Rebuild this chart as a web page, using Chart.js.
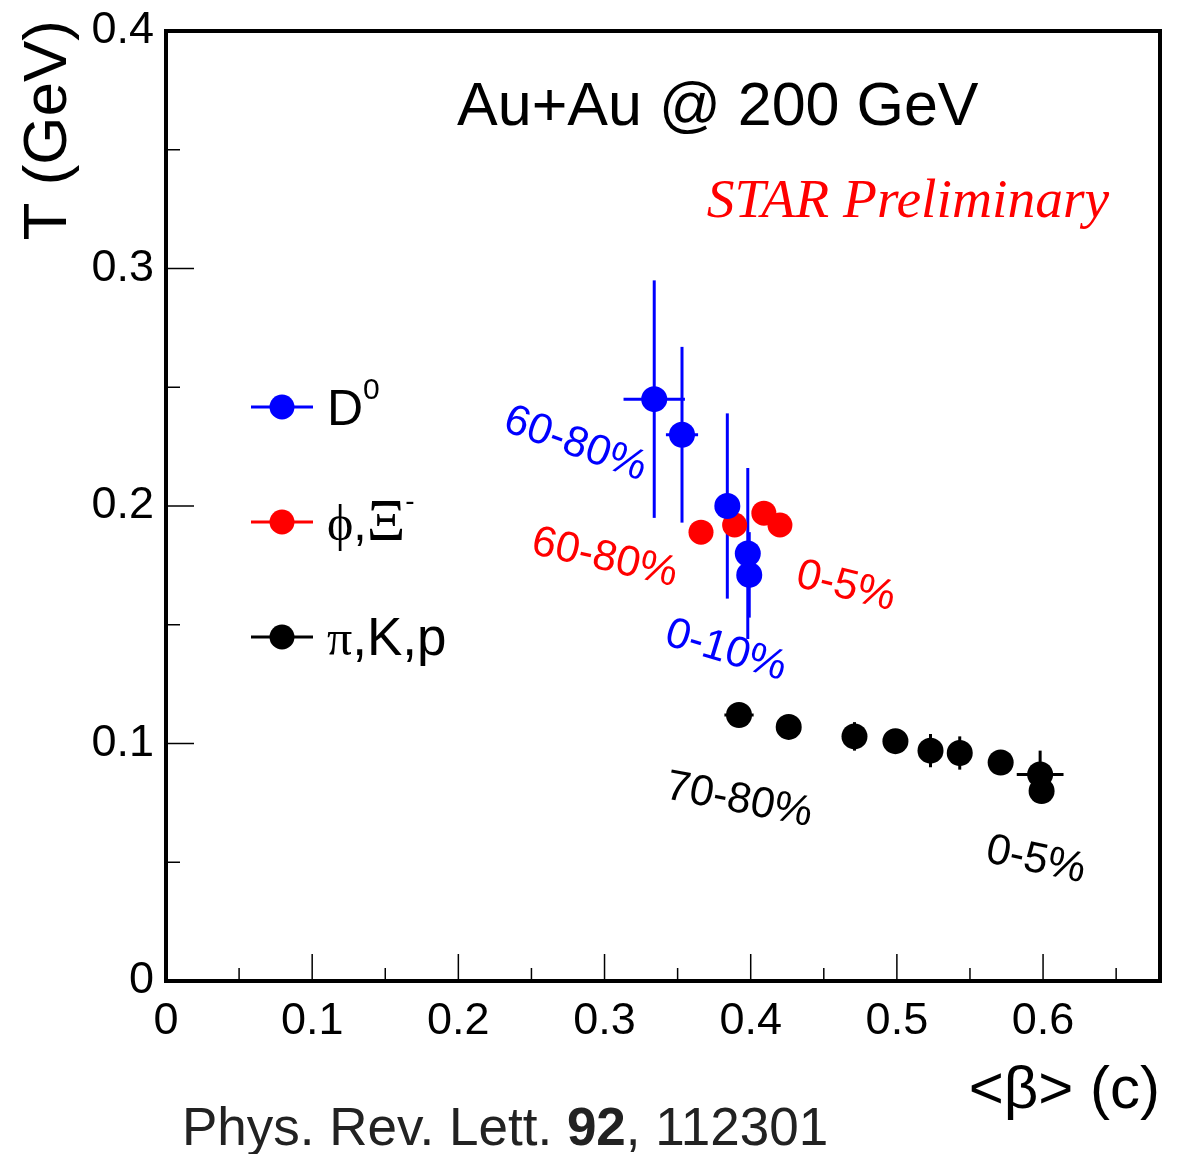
<!DOCTYPE html>
<html>
<head>
<meta charset="utf-8">
<script src="https://cdn.jsdelivr.net/npm/chart.js@4"></script>
<style>
  html, body { margin: 0; padding: 0; background: #fff; }
  #wrap { width: 1181px; height: 1154px; position: relative; }
</style>
</head>
<body>
<div id="wrap"><canvas id="tempChart"></canvas></div>
<script>
// D0 (blue)
const d0Beta = [0.334, 0.353, 0.384, 0.398, 0.399];
const d0T = [0.245, 0.230, 0.200, 0.180, 0.171];
const d0TErr = [0.050, 0.037, 0.039, 0.036, 0.018];
const d0BetaErr = [0.021, 0.011, 0, 0, 0];

// phi, Xi- (red)
const phiXiBeta = [0.366, 0.389, 0.409, 0.420];
const phiXiT = [0.189, 0.192, 0.197, 0.192];

// pi, K, p (black)
const pikpBeta = [0.392, 0.426, 0.471, 0.499, 0.523, 0.543, 0.571, 0.598, 0.599];
const pikpT = [0.112, 0.107, 0.103, 0.101, 0.097, 0.096, 0.092, 0.087, 0.080];
const pikpTErr = [0, 0, 0.006, 0, 0.007, 0.007, 0, 0.010, 0];
const pikpBetaErr = [0.01, 0, 0, 0, 0, 0, 0, 0.016, 0];

// axis ticks
const xTickValues = [0, 0.1, 0.2, 0.3, 0.4, 0.5, 0.6];
const yTickValues = [0, 0.1, 0.2, 0.3, 0.4];

const SANS = '"Liberation Sans", Arial, Helvetica, sans-serif';
const SERIF = '"Liberation Serif", "Times New Roman", serif';

function toPoints(xs, ys, yErr, xErr) {
    return xs.map((x, i) => ({
        x: x,
        y: ys[i],
        yErr: yErr ? yErr[i] : 0,
        xErr: xErr ? xErr[i] : 0
    }));
}

// error bars drawn under the markers
const errorBars = {
    id: 'errorBars',
    beforeDatasetsDraw(chart) {
        const { ctx, scales: { x, y } } = chart;
        ctx.save();
        ctx.lineWidth = 3;
        chart.data.datasets.forEach(ds => {
            ctx.strokeStyle = ds.backgroundColor;
            ds.data.forEach(p => {
                const px = x.getPixelForValue(p.x);
                const py = y.getPixelForValue(p.y);
                if (p.yErr) {
                    ctx.beginPath();
                    ctx.moveTo(px, y.getPixelForValue(p.y - p.yErr));
                    ctx.lineTo(px, y.getPixelForValue(p.y + p.yErr));
                    ctx.stroke();
                }
                if (p.xErr) {
                    ctx.beginPath();
                    ctx.moveTo(x.getPixelForValue(p.x - p.xErr), py);
                    ctx.lineTo(x.getPixelForValue(p.x + p.xErr), py);
                    ctx.stroke();
                }
            });
        });
        ctx.restore();
    }
};

// ROOT-like frame with inward ticks
const frameTicks = {
    id: 'frameTicks',
    afterDraw(chart) {
        const { ctx, chartArea: a, scales: { x, y } } = chart;
        ctx.save();
        ctx.strokeStyle = '#000';
        ctx.lineWidth = 1.5;
        for (let i = 1; i * 0.05 < x.max - 1e-9; i++) {
            const px = x.getPixelForValue(i * 0.05);
            const len = i % 2 === 0 ? 27 : 13;
            ctx.beginPath();
            ctx.moveTo(px, a.bottom);
            ctx.lineTo(px, a.bottom - len);
            ctx.stroke();
        }
        for (let i = 1; i * 0.05 < y.max - 1e-9; i++) {
            const py = y.getPixelForValue(i * 0.05);
            const len = i % 2 === 0 ? 28 : 14;
            ctx.beginPath();
            ctx.moveTo(a.left, py);
            ctx.lineTo(a.left + len, py);
            ctx.stroke();
        }
        ctx.lineWidth = 4;
        ctx.strokeRect(a.left, a.top, a.right - a.left, a.bottom - a.top);
        ctx.restore();
    }
};

// texts: titles, centrality labels, legend, reference
const annotations = {
    id: 'annotations',
    afterDraw(chart) {
        const { ctx, scales: { x, y } } = chart;
        ctx.save();
        ctx.fillStyle = '#000';

        // axis titles
        ctx.save();
        ctx.font = '62px ' + SANS;
        ctx.translate(66, 20);
        ctx.rotate(-Math.PI / 2);
        ctx.textAlign = 'right';
        ctx.textBaseline = 'alphabetic';
        ctx.fillText('T (GeV)', 0, 0);
        ctx.restore();

        ctx.font = '60px ' + SANS;
        ctx.textAlign = 'right';
        ctx.fillText('<β> (c)', 1160, 1108);

        // plot title
        ctx.textAlign = 'center';
        ctx.font = '61px ' + SANS;
        ctx.fillText('Au+Au @ 200 GeV', x.getPixelForValue(0.3775), y.getPixelForValue(0.3605));

        ctx.fillStyle = '#ff0000';
        ctx.textAlign = 'left';
        ctx.font = 'italic 55.5px ' + SERIF;
        ctx.fillText('STAR Preliminary', x.getPixelForValue(0.370), y.getPixelForValue(0.3215));

        // rotated centrality labels
        const labels = [
            { text: '60-80%', bx: 0.280, t: 0.226, deg: 20, color: '#0000ff' },
            { text: '60-80%', bx: 0.300, t: 0.178, deg: 13, color: '#ff0000' },
            { text: '0-5%', bx: 0.465, t: 0.166, deg: 14, color: '#ff0000' },
            { text: '0-10%', bx: 0.383, t: 0.139, deg: 17, color: '#0000ff' },
            { text: '70-80%', bx: 0.392, t: 0.076, deg: 11, color: '#000000' },
            { text: '0-5%', bx: 0.595, t: 0.0508, deg: 12, color: '#000000' }
        ];
        ctx.font = '43px ' + SANS;
        ctx.textAlign = 'center';
        ctx.textBaseline = 'middle';
        labels.forEach(l => {
            ctx.save();
            ctx.fillStyle = l.color;
            ctx.translate(x.getPixelForValue(l.bx), y.getPixelForValue(l.t));
            ctx.rotate(l.deg * Math.PI / 180);
            ctx.fillText(l.text, 0, 0);
            ctx.restore();
        });

        // legend
        const rows = [407, 522, 637];
        ctx.textAlign = 'left';
        ctx.textBaseline = 'alphabetic';
        chart.data.datasets.forEach((ds, i) => {
            const cy = rows[i];
            ctx.strokeStyle = ds.backgroundColor;
            ctx.fillStyle = ds.backgroundColor;
            ctx.lineWidth = 3;
            ctx.beginPath();
            ctx.moveTo(251, cy);
            ctx.lineTo(313, cy);
            ctx.stroke();
            ctx.beginPath();
            ctx.arc(282, cy, 12.5, 0, Math.PI * 2);
            ctx.fill();
        });
        ctx.fillStyle = '#000';
        const pieces = [
            [{ t: 'D', f: '50px ' + SANS, dy: 0 }, { t: '0', f: '30px ' + SANS, dy: -26 }],
            [{ t: 'ϕ', f: '50px ' + SERIF, dy: 0 }, { t: ',', f: '48px ' + SANS, dy: 0 },
             { t: 'Ξ', f: '60px ' + SERIF, dy: 0 }, { t: '-', f: '28px ' + SANS, dy: -30 }],
            [{ t: 'π', f: '50px ' + SERIF, dy: 0 }, { t: ',K,p', f: '53px ' + SANS, dy: 0 }]
        ];
        pieces.forEach((row, i) => {
            let px = 327;
            const base = rows[i] + 18;
            row.forEach(p => {
                ctx.font = p.f;
                ctx.fillText(p.t, px, base + p.dy);
                px += ctx.measureText(p.t).width;
            });
        });

        // reference
        ctx.fillStyle = '#222';
        let rx = 182;
        [['Phys. Rev. Lett. ', ''], ['92', 'bold '], [', 112301', '']].forEach(([t, w]) => {
            ctx.font = w + '53px ' + SANS;
            ctx.fillText(t, rx, 1145);
            rx += ctx.measureText(t).width;
        });
        ctx.restore();
    }
};

const ctx = document.getElementById('tempChart').getContext('2d');
new Chart(ctx, {
    type: 'scatter',
    data: {
        datasets: [
            {
                label: 'D0',
                data: toPoints(d0Beta, d0T, d0TErr, d0BetaErr),
                backgroundColor: '#0000ff',
                borderWidth: 0,
                pointRadius: 13
            },
            {
                label: 'phi, Xi-',
                data: toPoints(phiXiBeta, phiXiT),
                backgroundColor: '#ff0000',
                borderWidth: 0,
                pointRadius: 12.5
            },
            {
                label: 'pi, K, p',
                data: toPoints(pikpBeta, pikpT, pikpTErr, pikpBetaErr),
                backgroundColor: '#000000',
                borderWidth: 0,
                pointRadius: 13
            }
        ]
    },
    options: {
        responsive: true,
        maintainAspectRatio: false,
        animation: false,
        layout: { padding: { top: 22, right: 21, left: 0, bottom: 0 } },
        plugins: {
            legend: { display: false },
            tooltip: { enabled: false }
        },
        scales: {
            x: {
                type: 'linear',
                min: 0,
                max: 0.68,
                grid: { display: false },
                border: { display: false },
                afterBuildTicks: (scale) => { scale.ticks = xTickValues.map(v => ({ value: v })); },
                afterFit: (scale) => { scale.height = 173; },
                ticks: {
                    color: '#000',
                    padding: 6,
                    maxRotation: 0,
                    font: { family: SANS, size: 45 },
                    callback: (v) => String(v)
                }
            },
            y: {
                min: 0,
                max: 0.4,
                grid: { display: false },
                border: { display: false },
                afterBuildTicks: (scale) => { scale.ticks = yTickValues.map(v => ({ value: v })); },
                afterFit: (scale) => { scale.width = 166; },
                ticks: {
                    color: '#000',
                    padding: 4,
                    font: { family: SANS, size: 45 },
                    callback: (v) => String(v)
                }
            }
        }
    },
    plugins: [errorBars, frameTicks, annotations]
});
</script>
</body>
</html>
